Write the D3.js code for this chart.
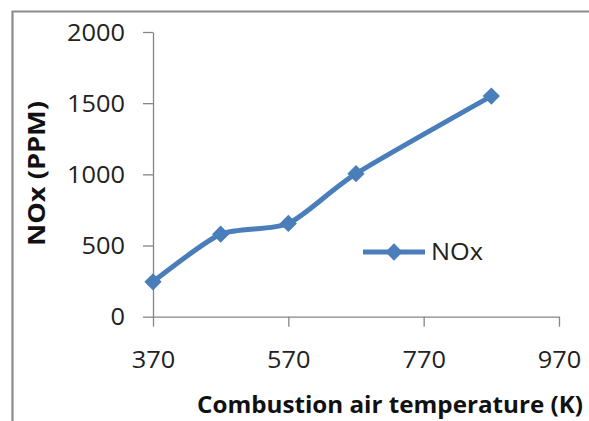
<!DOCTYPE html>
<html>
<head>
<meta charset="utf-8">
<script src="https://cdn.jsdelivr.net/npm/d3@7"></script>
<style>
  html, body { margin: 0; padding: 0; background: #fff; }
  svg { display: block; }
</style>
</head>
<body>
<svg id="chart" width="589" height="421"></svg>
<script>
const temperatures = [370, 470, 570, 670, 870];
const noxValues = [245, 580, 655, 1005, 1550];
const xTicks = [370, 570, 770, 970];
const yTicks = [0, 500, 1000, 1500, 2000];
const seriesName = "NOx";
const xTitle = "Combustion air temperature (K)";
const yTitle = "NOx (PPM)";

const svg = d3.select("#chart");
const font = "'Open Sans', Lato, sans-serif";
const lineColor = "#4a7ebb";
const axisColor = "#868686";

// chart frame
svg.append("path")
  .attr("d", "M12.5,421 L12.5,11.5 L589,11.5")
  .attr("fill", "none")
  .attr("stroke", "#8c8c8c")
  .attr("stroke-width", 2.2);

const x = d3.scaleLinear().domain([370, 970]).range([153, 559]);
const y = d3.scaleLinear().domain([0, 2000]).range([316.7, 32]);

// axes
const yAxis = svg.append("g")
  .attr("transform", `translate(${x(370)},0)`)
  .call(d3.axisLeft(y).tickValues(yTicks).tickFormat(d3.format("d"))
    .tickSize(10).tickSizeOuter(0).tickPadding(18));
const xAxis = svg.append("g")
  .attr("transform", `translate(0,${y(0)})`)
  .call(d3.axisBottom(x).tickValues(xTicks).tickFormat(d3.format("d"))
    .tickSize(10).tickSizeOuter(0).tickPadding(25));

[yAxis, xAxis].forEach(g => {
  g.selectAll("path.domain").attr("stroke", axisColor).attr("stroke-width", 1.3);
  g.selectAll(".tick line").attr("stroke", axisColor).attr("stroke-width", 1.3);
  g.selectAll(".tick text")
    .attr("font-family", font)
    .attr("font-size", 23)
    .attr("fill", "#222")
    .attr("textLength", function () { return this.textContent.length * 14.5; })
    .attr("lengthAdjust", "spacingAndGlyphs");
});
yAxis.selectAll(".tick text").attr("dy", "0.35em");

// line
const line = d3.line()
  .x((d, i) => x(temperatures[i]))
  .y(d => y(d))
  .curve(d3.curveCardinal.tension(0.3));

svg.append("path")
  .datum(noxValues)
  .attr("d", line)
  .attr("fill", "none")
  .attr("stroke", lineColor)
  .attr("stroke-width", 5)
  .attr("stroke-linejoin", "round");

const diamond = d3.symbol().type(d3.symbolDiamond2).size(190);
svg.append("g").selectAll("path")
  .data(noxValues)
  .join("path")
  .attr("d", diamond)
  .attr("transform", (d, i) => `translate(${x(temperatures[i])},${y(d)})`)
  .attr("fill", lineColor);

// legend
const legend = svg.append("g");
legend.append("line")
  .attr("x1", 363).attr("x2", 425)
  .attr("y1", 252).attr("y2", 252)
  .attr("stroke", lineColor).attr("stroke-width", 5);
legend.append("path")
  .attr("d", diamond)
  .attr("transform", "translate(394,252)")
  .attr("fill", lineColor);
legend.append("text")
  .attr("x", 431).attr("y", 252).attr("dy", "0.35em")
  .attr("font-family", font).attr("font-size", 24)
  .attr("textLength", 52).attr("lengthAdjust", "spacingAndGlyphs")
  .attr("fill", "#222")
  .text(seriesName);

// axis titles
svg.append("text")
  .attr("x", 197).attr("y", 413)
  .attr("font-family", font).attr("font-size", 24).attr("font-weight", "bold")
  .attr("textLength", 386).attr("lengthAdjust", "spacingAndGlyphs")
  .attr("fill", "#111")
  .text(xTitle);

svg.append("text")
  .attr("transform", "translate(45,246) rotate(-90)")
  .attr("font-family", font).attr("font-size", 23).attr("font-weight", "bold")
  .attr("textLength", 145).attr("lengthAdjust", "spacingAndGlyphs")
  .attr("fill", "#111")
  .text(yTitle);
</script>
</body>
</html>
